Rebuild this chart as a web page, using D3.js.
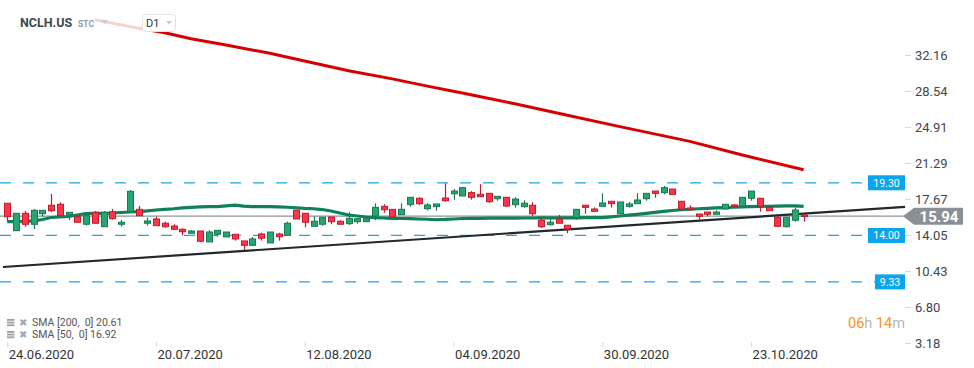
<!DOCTYPE html>
<html lang="en">
<head>
<meta charset="UTF-8">
<title>NCLH.US D1</title>
<style>
  body { margin: 0; background: #fff; }
  #chart text { font-family: Roboto, "Open Sans", sans-serif; }
</style>
</head>
<body>
<div id="chart"></div>
<script src="https://cdn.jsdelivr.net/npm/d3@7"></script>
<script>
// ---- data ----
const dateLabels = ['24.06.2020', '20.07.2020', '12.08.2020', '04.09.2020', '30.09.2020', '23.10.2020'];
const dateIdx = [0, 17, 34, 51, 68, 85];
const priceTicks = [3.18, 6.80, 10.43, 14.05, 17.67, 21.29, 24.91, 28.54, 32.16];

const openP = [17.24,14.48,16.23,15.13,16.19,17.04,17.14,16.06,15.89,15.13,
  16.33,14.88,16.39,15.13,16.39,16.63,15.23,15.66,15.23,14.95,
  14.62,14.22,14.45,13.35,14.12,13.85,14.12,13.45,13.01,14.15,
  13.25,14.15,14.02,16.56,16.23,14.92,15.13,15.86,15.43,15.19,
  15.39,15.39,15.96,16.93,16.63,16.09,17.10,17.74,16.69,16.90,
  17.77,18.20,17.97,18.31,18.14,18.24,17.70,17.84,17.10,16.90,
  17.04,15.53,15.09,15.66,15.03,15.79,17.04,16.66,16.93,17.44,
  16.19,16.93,17.20,17.70,18.47,18.31,18.67,17.44,16.76,16.16,
  16.36,16.13,16.66,17.07,16.96,17.74,17.74,16.83,15.83,14.88,
  15.53,16.06];
const highP = [17.24,16.23,16.46,16.66,16.53,18.17,17.34,16.33,15.89,15.99,
  16.46,16.46,16.66,15.56,18.57,16.96,15.80,15.89,15.39,15.13,
  14.72,14.55,14.45,14.52,14.52,14.35,14.12,13.45,13.85,14.28,
  14.35,14.28,15.39,16.56,16.23,15.93,15.83,15.86,15.53,16.33,
  15.69,15.75,17.24,17.14,16.63,17.24,17.84,17.84,17.27,17.17,
  19.25,18.67,18.81,18.47,19.15,18.24,17.94,17.84,17.84,17.54,
  17.34,15.79,15.66,16.06,15.03,16.63,17.04,16.83,18.24,17.44,
  17.37,17.37,18.27,18.24,18.47,18.97,18.67,17.44,17.04,16.16,
  16.36,16.53,17.14,17.17,17.84,18.47,17.74,16.83,15.83,15.83,
  16.83,16.06];
const lowP = [15.39,14.48,14.88,14.65,15.89,16.36,15.99,15.56,15.33,15.00,
  15.20,14.85,15.60,14.88,16.39,15.99,15.00,14.99,14.78,14.62,
  14.02,14.22,13.32,13.35,13.88,13.85,13.48,12.54,13.01,13.48,
  13.25,13.48,14.02,15.66,14.82,14.92,14.99,15.13,15.13,15.06,
  15.19,15.35,15.53,16.29,15.86,16.09,16.90,17.07,16.53,16.49,
  17.40,17.60,17.97,17.60,17.87,17.27,17.50,16.86,16.80,16.80,
  15.99,14.75,14.99,15.23,14.22,15.60,16.19,16.43,16.93,16.80,
  16.19,16.80,17.20,17.50,17.80,18.14,18.14,16.50,16.46,15.60,
  15.93,16.13,16.66,16.90,16.96,17.50,16.39,16.49,14.92,14.82,
  15.39,15.39];
const closeP = [15.89,16.23,15.13,16.53,16.53,16.49,15.99,16.33,15.33,15.99,
  15.23,16.33,15.69,15.33,18.44,15.99,15.46,14.99,14.88,14.62,
  14.38,14.45,13.42,14.35,14.52,14.35,13.65,13.01,13.65,13.72,
  14.35,13.88,15.23,15.66,15.33,15.43,15.83,15.39,15.13,15.73,
  15.69,15.69,16.83,16.59,15.86,16.63,17.84,17.20,17.07,17.17,
  17.50,18.47,18.81,17.84,17.90,17.40,17.94,16.96,17.67,17.24,
  16.19,14.88,15.33,15.23,14.65,16.63,16.83,16.43,17.27,17.20,
  17.37,17.17,17.57,18.24,18.24,18.81,18.14,16.66,16.59,15.93,
  16.13,16.36,17.14,16.90,17.84,18.47,16.96,16.49,14.92,15.83,
  16.56,15.94];

const sma50 = [15.39,15.39,15.41,15.46,15.61,15.81,15.86,15.91,16.06,16.21,
  16.23,16.23,16.26,16.31,16.36,16.39,16.48,16.56,16.63,16.69,
  16.77,16.82,16.87,16.90,16.90,16.97,17.05,16.95,16.90,16.90,
  16.90,16.87,16.84,16.79,16.73,16.69,16.61,16.46,16.26,16.06,
  15.96,15.86,15.79,15.76,15.73,15.71,15.69,15.66,15.63,15.58,
  15.61,15.66,15.71,15.73,15.73,15.74,15.74,15.75,15.75,15.76,
  15.76,15.77,15.77,15.78,15.78,15.78,15.79,15.79,15.80,15.88,
  15.96,16.04,16.13,16.23,16.33,16.43,16.51,16.59,16.64,16.69,
  16.73,16.77,16.80,16.84,16.87,16.90,16.92,16.94,16.95,16.97,
  16.97,16.92];

const sma200Idx = [10, 15, 18, 21, 25, 30, 35, 39, 44, 48, 52, 58, 64, 70, 78, 84, 91];
const sma200 = [35.70, 34.85, 34.40, 33.80, 33.16, 32.33, 31.35, 30.58, 29.76, 29.03, 28.33, 27.25, 26.10, 24.95, 23.47, 22.10, 20.61];

const trendIdx = [-0.5, 102.6];
const trendVal = [10.83, 16.87];

const levels = [19.30, 14.00, 9.33];
const lastPrice = 15.94;
const legendRows = ['SMA [200,  0] 20.61', 'SMA [50,  0] 16.92'];

// ---- layout ----
const W = 974, H = 368;
const plotRight = 905;

const svg = d3.select('#chart').append('svg')
  .attr('width', W).attr('height', H);

const x = d3.scaleLinear().domain([0, 91]).range([7.3, 803.6]);
const y = d3.scaleLinear().domain([3.18, 32.16]).range([343, 55]);

// support / resistance levels
const lv = svg.append('g');
lv.selectAll('line').data(levels).enter().append('line')
  .attr('x1', 0).attr('x2', plotRight)
  .attr('y1', d => y(d)).attr('y2', d => y(d))
  .attr('stroke', '#1da5ea').attr('stroke-width', 1.3)
  .attr('stroke-dasharray', '11,12');

// last price line
svg.append('line')
  .attr('x1', 0).attr('x2', plotRight)
  .attr('y1', y(lastPrice)).attr('y2', y(lastPrice))
  .attr('stroke', '#8d9498').attr('stroke-width', 1.3);

// trendline
svg.append('line')
  .attr('x1', x(trendIdx[0])).attr('x2', x(trendIdx[1]))
  .attr('y1', y(trendVal[0])).attr('y2', y(trendVal[1]))
  .attr('stroke', '#23282c').attr('stroke-width', 2.2);

// SMA 50
svg.append('path')
  .datum(sma50)
  .attr('fill', 'none')
  .attr('stroke', '#0f8057')
  .attr('stroke-width', 3.2)
  .attr('d', d3.line().x((d, i) => x(i)).y(d => y(d)));

// candles
const candles = d3.range(openP.length).map(i => ({
  i, o: openP[i], h: highP[i], l: lowP[i], c: closeP[i]
}));
const cg = svg.append('g').selectAll('g').data(candles).enter().append('g');
const upBody = '#26a771', upEdge = '#187a51', dnBody = '#ff3349', dnEdge = '#c01b2d';
cg.append('line')
  .attr('x1', d => Math.round(x(d.i)) + 0.5).attr('x2', d => Math.round(x(d.i)) + 0.5)
  .attr('y1', d => y(d.h)).attr('y2', d => y(d.l))
  .attr('stroke', d => d.c >= d.o ? upEdge : dnEdge).attr('stroke-width', 1.2);
cg.append('rect')
  .attr('x', d => Math.round(x(d.i)) - 2.5)
  .attr('width', 6)
  .attr('y', d => y(Math.max(d.o, d.c)))
  .attr('height', d => Math.max(1.5, Math.abs(y(d.o) - y(d.c))))
  .attr('fill', d => d.c >= d.o ? upBody : dnBody)
  .attr('stroke', d => d.c >= d.o ? upEdge : dnEdge)
  .attr('stroke-width', 1);

// SMA 200
svg.append('path')
  .datum(sma200)
  .attr('fill', 'none')
  .attr('stroke', '#d70000')
  .attr('stroke-width', 3)
  .attr('d', d3.line().x((d, i) => x(sma200Idx[i])).y(d => y(d)));

// level tags
const tagW = d => d < 10 ? 30 : 37;
const tags = svg.append('g').selectAll('g').data(levels).enter().append('g');
tags.append('rect')
  .attr('x', d => plotRight - tagW(d)).attr('y', d => y(d) - 7.5)
  .attr('width', tagW).attr('height', 15)
  .attr('fill', '#0aa5ee');
tags.append('text')
  .attr('x', d => plotRight - tagW(d) / 2).attr('y', d => y(d) + 4)
  .attr('text-anchor', 'middle').attr('fill', '#fff')
  .attr('font-size', 10.5)
  .text(d => d.toFixed(2));

// right axis
const ya = svg.append('g')
  .attr('transform', `translate(${plotRight},0)`)
  .call(d3.axisRight(y).tickValues(priceTicks).tickFormat(d => d.toFixed(2)).tickSize(6).tickPadding(4));
ya.select('.domain').remove();
ya.selectAll('.tick line').attr('stroke', '#d5d8da');
ya.selectAll('.tick text').attr('fill', '#40474d').attr('font-size', 13)
  .style('font-family', 'Roboto, sans-serif');

// last price tag
const py = y(lastPrice);
svg.append('path')
  .attr('d', `M${plotRight - 2},${py} L${plotRight + 9},${py - 8.5} L${plotRight + 58},${py - 8.5} L${plotRight + 58},${py + 8.5} L${plotRight + 9},${py + 8.5} Z`)
  .attr('fill', '#8a9196');
svg.append('text')
  .attr('x', plotRight + 34).attr('y', py + 5.5)
  .attr('text-anchor', 'middle').attr('fill', '#fff')
  .attr('font-size', 15).attr('font-weight', 'bold')
  .text(lastPrice.toFixed(2));

// bottom axis
const xa = svg.append('g')
  .attr('transform', 'translate(0,342)')
  .call(d3.axisBottom(x).tickValues(dateIdx).tickFormat((d, i) => dateLabels[i]).tickSize(5).tickPadding(3));
xa.select('.domain').remove();
xa.selectAll('.tick line').attr('stroke', '#d5d8da');
xa.selectAll('.tick text')
  .attr('text-anchor', 'start').attr('x', 1)
  .attr('fill', '#333').attr('font-size', 13)
  .style('font-family', 'Roboto, sans-serif');

// header (semi transparent band)
svg.append('rect').attr('x', 0).attr('y', 0).attr('width', W).attr('height', 32)
  .attr('fill', '#fff').attr('opacity', 0.82);
svg.append('text').attr('x', 20).attr('y', 27)
  .attr('font-size', 12.5).attr('font-weight', 'bold').attr('fill', '#3b4852')
  .text('NCLH.US');
svg.append('text').attr('x', 78).attr('y', 27)
  .attr('font-size', 8.5).attr('font-weight', 'bold').attr('fill', '#8b9aa6')
  .text('STC');
svg.append('path').attr('d', 'M101,20 L108,20 L104.5,24 Z').attr('fill', '#c6cbce');
svg.append('rect').attr('x', 142.5).attr('y', 14.5).attr('width', 33).attr('height', 17).attr('rx', 3)
  .attr('fill', '#fff').attr('stroke', '#e0e3e5');
svg.append('text').attr('x', 146).attr('y', 27)
  .attr('font-size', 11).attr('fill', '#333').text('D1');
svg.append('path').attr('d', 'M166,21 L172,21 L169,24.5 Z').attr('fill', '#c6cbce');

// legend
const lg = svg.append('g').selectAll('g').data(legendRows).enter().append('g')
  .attr('transform', (d, i) => `translate(0,${326 + i * 12})`);
lg.append('rect').attr('x', 7).attr('y', -7).attr('width', 7.5).attr('height', 1.8).attr('fill', '#9aa0a4');
lg.append('rect').attr('x', 7).attr('y', -4.3).attr('width', 7.5).attr('height', 1.8).attr('fill', '#9aa0a4');
lg.append('rect').attr('x', 7).attr('y', -1.6).attr('width', 7.5).attr('height', 1.8).attr('fill', '#9aa0a4');
lg.append('text').attr('x', 19).attr('y', 0).attr('font-size', 10).attr('fill', '#a3a8ab')
  .style('font-family', 'DejaVu Sans').text('\u2716');
lg.append('text').attr('x', 32).attr('y', 0).attr('font-size', 10.5).attr('fill', '#555')
  .style('white-space', 'pre')
  .text(d => d);

// session timer
const tm = svg.append('text').attr('x', 848).attr('y', 328).attr('font-size', 14.5);
tm.append('tspan').attr('fill', '#f7941d').text('06');
tm.append('tspan').attr('fill', '#b5b9bc').text('h ');
tm.append('tspan').attr('fill', '#f7941d').text('14');
tm.append('tspan').attr('fill', '#b5b9bc').text('m');
</script>
</body>
</html>
